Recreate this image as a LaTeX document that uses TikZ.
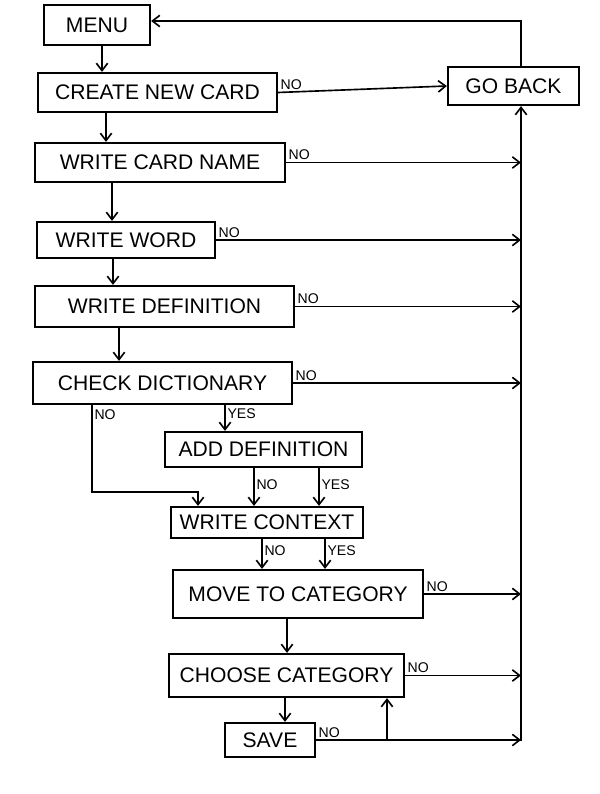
\documentclass[tikz,border=0pt]{standalone}
\usepackage{fontspec}
\setmainfont{Liberation Sans}
\usetikzlibrary{arrows.meta,calc}

\begin{document}
\begin{tikzpicture}[x=0.03cm, y=-0.03cm, line width=1.4pt,
                    >={Straight Barb[length=2.2mm, width=3.4mm]}]
  \tikzset{stepbox/.style={draw, line width=1.9pt, inner sep=0pt,
                           font=\fontsize{18}{20}\selectfont},
           lbl/.style={font=\fontsize{12}{14}\selectfont, inner sep=1.5pt}}
  \useasboundingbox (0,0) rectangle (600,794);

  % main column of steps
  \node[stepbox, minimum width=3.18cm, minimum height=1.20cm] (menu)   at (97,25)    {MENU};
  \node[stepbox, minimum width=7.17cm, minimum height=1.17cm] (create) at (157.5,92.5) {CREATE NEW CARD};
  \node[stepbox, minimum width=3.93cm, minimum height=1.14cm] (goback) at (513.5,86) {GO BACK};
  \node[stepbox, minimum width=7.50cm, minimum height=1.17cm] (wcn)    at (160,162.5) {WRITE CARD NAME};
  \node[stepbox, minimum width=5.34cm, minimum height=1.08cm] (ww)     at (126,240)   {WRITE WORD};
  \node[stepbox, minimum width=7.77cm, minimum height=1.23cm] (wd)     at (164.5,306.5) {WRITE DEFINITION};
  \node[stepbox, minimum width=7.77cm, minimum height=1.26cm] (cd)     at (162.5,383) {CHECK DICTIONARY};
  \node[stepbox, minimum width=5.91cm, minimum height=1.05cm] (ad)     at (263.5,449.5) {ADD DEFINITION};
  \node[stepbox, minimum width=5.76cm, minimum height=0.93cm] (wc)     at (267,522.5) {WRITE CONTEXT};
  \node[stepbox, minimum width=7.50cm, minimum height=1.44cm] (mtc)    at (298,594)   {MOVE TO CATEGORY};
  \node[stepbox, minimum width=7.05cm, minimum height=1.29cm] (cc)     at (286.5,675.5) {CHOOSE CATEGORY};
  \node[stepbox, minimum width=2.70cm, minimum height=1.02cm] (save)   at (270,740)   {SAVE};

  % straight steps downwards
  \foreach \a/\b/\x in {menu/create/102, create/wcn/106, wcn/ww/112, ww/wd/113,
                        wd/cd/119, mtc/cc/287, cc/save/285}
    \draw[->] (\a.south -| \x,0) -- (\b.north -| \x,0);

  % return trunk on the right
  \coordinate (trunkbot) at (521,741);
  \draw[->] (trunkbot) -- (trunkbot |- goback.south);
  \draw[->] (goback.north -| trunkbot) |- ($(menu.east)+(0,-4)$);
  \draw[->] (create.east) -- node[lbl, above right, pos=0] {NO} (goback.west);
  \foreach \n in {wcn, ww, wd, cd, mtc, cc, save}
    \draw[->] (\n.east) -- node[lbl, above right, pos=0] {NO} (\n.east -| trunkbot);

  % dictionary branches
  \coordinate (nojoin) at (198,492);
  \draw[->] (cd.south -| 92,0) |- node[lbl, below right, pos=0, yshift=-2pt] {NO} (nojoin)
            -- (wc.north -| nojoin);
  \draw[->] (cd.south -| 225,0) -- node[lbl, right, pos=0.35] {YES} (ad.north -| 225,0);
  \draw[->] (ad.south -| 254,0) -- node[lbl, right, pos=0.45] {NO} (wc.north -| 254,0);
  \draw[->] (ad.south -| 319,0) -- node[lbl, right, pos=0.45] {YES} (wc.north -| 319,0);
  \draw[->] (wc.south -| 262,0) -- node[lbl, right, pos=0.4] {NO} (mtc.north -| 262,0);
  \draw[->] (wc.south -| 325,0) -- node[lbl, right, pos=0.4] {YES} (mtc.north -| 325,0);

  % save loops back to category
  \draw[->] (save.east -| 387,0) -- (cc.south -| 387,0);
\end{tikzpicture}
\end{document}
